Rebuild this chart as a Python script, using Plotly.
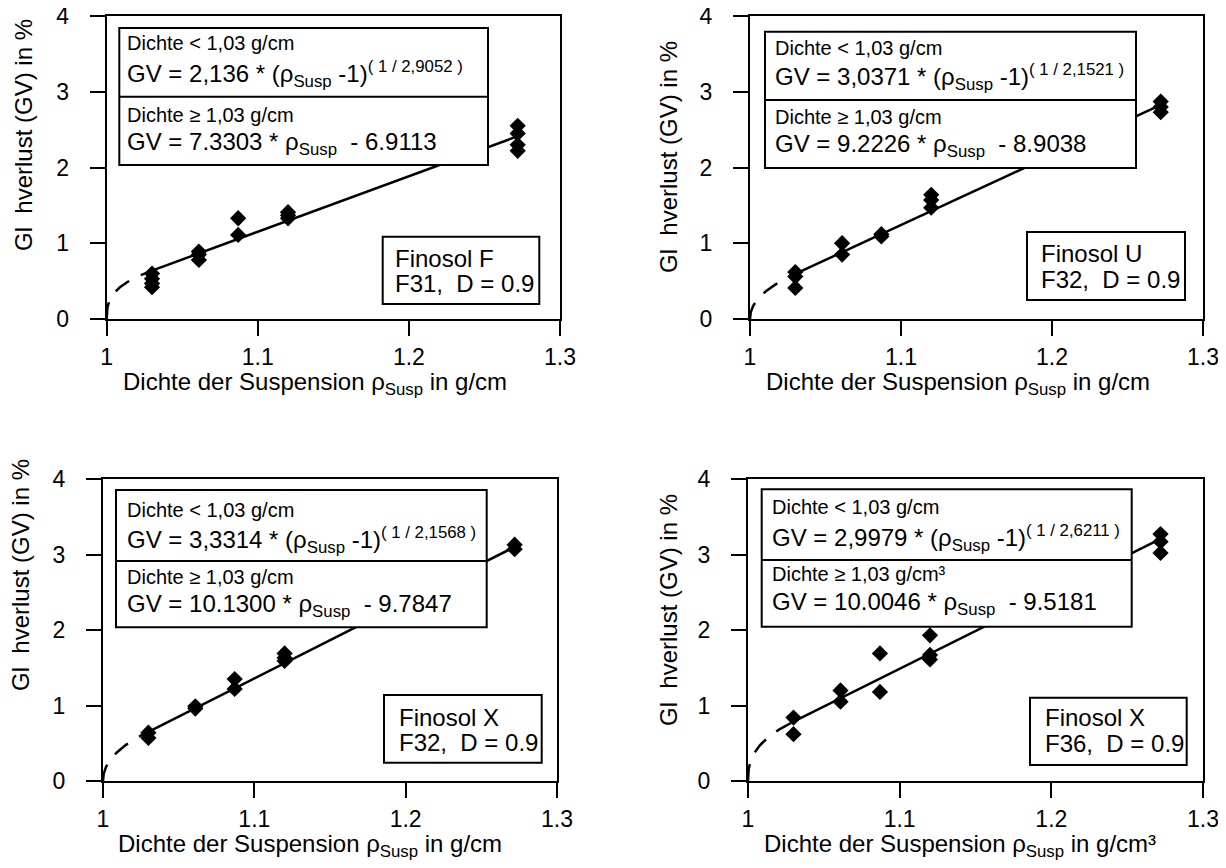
import numpy as np
import plotly.graph_objects as go

# ---------------- data ----------------
rho_levels = [1.03, 1.061, 1.087, 1.12, 1.272]

# Finosol F, F31
rho_F31 = [1.03, 1.03, 1.03, 1.03, 1.061, 1.061, 1.061, 1.087, 1.087, 1.12, 1.12, 1.12, 1.272, 1.272, 1.272, 1.272]
gv_F31 = [0.60, 0.53, 0.47, 0.42, 0.89, 0.85, 0.78, 1.33, 1.11, 1.41, 1.37, 1.33, 2.55, 2.45, 2.30, 2.22]
# Finosol U, F32
rho_U32 = [1.03, 1.03, 1.03, 1.061, 1.061, 1.087, 1.087, 1.12, 1.12, 1.12, 1.272, 1.272, 1.272]
gv_U32 = [0.62, 0.56, 0.41, 1.00, 0.85, 1.12, 1.09, 1.64, 1.57, 1.47, 2.87, 2.80, 2.73]
# Finosol X, F32
rho_X32 = [1.03, 1.03, 1.061, 1.061, 1.087, 1.087, 1.12, 1.12, 1.12, 1.272, 1.272]
gv_X32 = [0.64, 0.57, 0.99, 0.96, 1.35, 1.22, 1.69, 1.63, 1.59, 3.13, 3.07]
# Finosol X, F36
rho_X36 = [1.03, 1.03, 1.061, 1.061, 1.087, 1.087, 1.12, 1.12, 1.12, 1.272, 1.272, 1.272]
gv_X36 = [0.84, 0.62, 1.20, 1.05, 1.69, 1.18, 1.93, 1.67, 1.61, 3.27, 3.17, 3.02]

# fit coefficients printed in the chart
lin_slope = [7.3303, 9.2226, 10.1300, 10.0046]
lin_icept = [-6.9113, -8.9038, -9.7847, -9.5181]
pow_coef = [2.136, 3.0371, 3.3314, 2.9979]
pow_expo = [2.9052, 2.1521, 2.1568, 2.6211]
pow_coef_txt = ["2,136", "3,0371", "3,3314", "2,9979"]
pow_expo_txt = ["2,9052", "2,1521", "2,1568", "2,6211"]
lin_slope_txt = ["7.3303", "9.2226", "10.1300", "10.0046"]
lin_icept_txt = ["6.9113", "8.9038", "9.7847", "9.5181"]
names = ["Finosol F", "Finosol U", "Finosol X", "Finosol X"]
codes = ["F31", "F32", "F32", "F36"]
unit_hi = ["g/cm", "g/cm", "g/cm", "g/cm³"]
x_unit = ["g/cm", "g/cm", "g/cm", "g/cm³"]
rho_break = 1.03

x_ticks = [1, 1.1, 1.2, 1.3]
x_ticktext = ["1", "1.1", "1.2", "1.3"]
y_ticks = [0, 1, 2, 3, 4]

series = [(rho_F31, gv_F31), (rho_U32, gv_U32), (rho_X32, gv_X32), (rho_X36, gv_X36)]

# ---------------- layout geometry (screen pixels) ----------------
OFF = 8                      # page body margin
W, H = 1226 - 2 * OFF, 868 - 2 * OFF
def fx(p):
    return (p - OFF) / W
def fy(p):
    return 1 - (p - OFF) / H

geo = [
    dict(l=106.7, r=560, t=16, b=319,
         box=(119.3, 488, 28, 165, 96.7), lines=(125, 43, 74, 115, 143),
         fbox=(382.7, 539.3, 236.7, 304), flines=(393, 258, 283),
         xt=(120.7, 384), yt=(24, 135)),
    dict(l=750, r=1203, t=16, b=319,
         box=(765, 1136, 31.7, 168, 100), lines=(773, 48, 77, 117, 145),
         fbox=(1027, 1185, 232, 300), flines=(1039, 253, 280),
         xt=(764, 384), yt=(668, 157)),
    dict(l=103, r=557, t=479, b=781,
         box=(116, 486.7, 490, 627.3, 561), lines=(125, 510, 540, 577, 605),
         fbox=(384, 541.7, 695, 762.7), flines=(397, 717, 742),
         xt=(116, 845), yt=(20, 575)),
    dict(l=748, r=1203, t=479, b=781,
         box=(761.7, 1131.7, 489.3, 626.7, 560), lines=(770, 507, 538, 574, 603),
         fbox=(1030, 1186.7, 697.7, 765), flines=(1042.7, 717, 743),
         xt=(761.7, 845), yt=(668, 610)),
]

FONT = "Arial, 'Liberation Sans', sans-serif"
fig = go.Figure()
shapes = []
annotations = []
layout_axes = {}

def txt(x, y, s, size, xanchor="left", angle=0):
    annotations.append(dict(x=fx(x), y=fy(y), xref="paper", yref="paper",
                            xanchor=xanchor, yanchor="middle", showarrow=False,
                            textangle=angle, text=s,
                            font=dict(family=FONT, size=size, color="black")))

def rect(x0, x1, y0, y1):
    shapes.append(dict(type="rect", xref="paper", yref="paper",
                       x0=fx(x0), x1=fx(x1), y0=fy(y1), y1=fy(y0),
                       line=dict(color="black", width=2), fillcolor="white", layer="above"))

for i, (rx, gy) in enumerate(series):
    k = "" if i == 0 else str(i + 1)
    xa, ya = "x" + k, "y" + k
    g = geo[i]
    # power-law part (dashed)
    t = np.concatenate([[0.0], np.geomspace(1e-8, 1.0, 300)])
    rp = 1 + (rho_break - 1) * t
    gp = pow_coef[i] * (rp - 1) ** (1 / pow_expo[i])
    fig.add_trace(go.Scatter(x=rp, y=gp, mode="lines", xaxis=xa, yaxis=ya,
                             line=dict(color="black", width=2.5, dash="17px,13px"),
                             showlegend=False, hoverinfo="skip"))
    # linear part (solid)
    rl = np.array([rho_break, max(rx)])
    gl = lin_slope[i] * rl + lin_icept[i]
    fig.add_trace(go.Scatter(x=rl, y=gl, mode="lines", xaxis=xa, yaxis=ya,
                             line=dict(color="black", width=2.5),
                             showlegend=False, hoverinfo="skip"))
    # measured points
    fig.add_trace(go.Scatter(x=rx, y=gy, mode="markers", xaxis=xa, yaxis=ya,
                             marker=dict(symbol="diamond", size=12.5, color="black",
                                         line=dict(width=0)),
                             showlegend=False))

    axcommon = dict(showline=True, linewidth=2, linecolor="black", mirror=True,
                    ticks="outside", ticklen=15, tickwidth=2, tickcolor="black",
                    showgrid=False, zeroline=False, automargin=False,
                    ticklabeloverflow="allow",
                    tickfont=dict(family=FONT, size=23, color="black"))
    layout_axes["xaxis" + k] = dict(axcommon, domain=[fx(g["l"]), fx(g["r"])],
                                    range=[1, 1.3], tickvals=x_ticks, ticktext=x_ticktext,
                                    anchor=ya, ticklabelstandoff=1)
    layout_axes["yaxis" + k] = dict(axcommon, domain=[fy(g["b"]), fy(g["t"])],
                                    range=[0, 4], tickvals=y_ticks, anchor=xa,
                                    ticklabelstandoff=16)

    # equation box
    bx0, bx1, by0, by1, bdiv = g["box"]
    rect(bx0, bx1, by0, by1)
    shapes.append(dict(type="line", xref="paper", yref="paper",
                       x0=fx(bx0), x1=fx(bx1), y0=fy(bdiv), y1=fy(bdiv),
                       line=dict(color="black", width=2), layer="above"))
    lx, l1, l2, l3, l4 = g["lines"]
    txt(lx, l1, "Dichte < 1,03 g/cm", 20)
    txt(lx, l2, f"GV = {pow_coef_txt[i]} * (ρ<sub>Susp</sub> -1)<sup>( 1 / {pow_expo_txt[i]} )</sup>", 24)
    txt(lx, l3, f"Dichte ≥ 1,03 {unit_hi[i]}", 20)
    txt(lx, l4, f"GV = {lin_slope_txt[i]} * ρ<sub>Susp</sub>  - {lin_icept_txt[i]}", 24)

    # name box
    f0, f1, f2, f3 = g["fbox"]
    rect(f0, f1, f2, f3)
    flx, fl1, fl2 = g["flines"]
    txt(flx, fl1, names[i], 24)
    txt(flx, fl2, f"{codes[i]},  D = 0.9", 24)

    # axis titles
    xtx, xty = g["xt"]
    txt(xtx, xty, f"Dichte der Suspension ρ<sub>Susp</sub> in {x_unit[i]}", 24)
    ytx, yty = g["yt"]
    txt(ytx, yty, "Gl  hverlust (GV) in %", 24, xanchor="center", angle=-90)

fig.update_layout(width=W, height=H,
                  margin=dict(l=0, r=0, t=0, b=0, pad=0, autoexpand=False),
                  paper_bgcolor="white", plot_bgcolor="white",
                  shapes=shapes, annotations=annotations, showlegend=False,
                  font=dict(family=FONT, color="black"), **layout_axes)

fig.write_html("out.html")
